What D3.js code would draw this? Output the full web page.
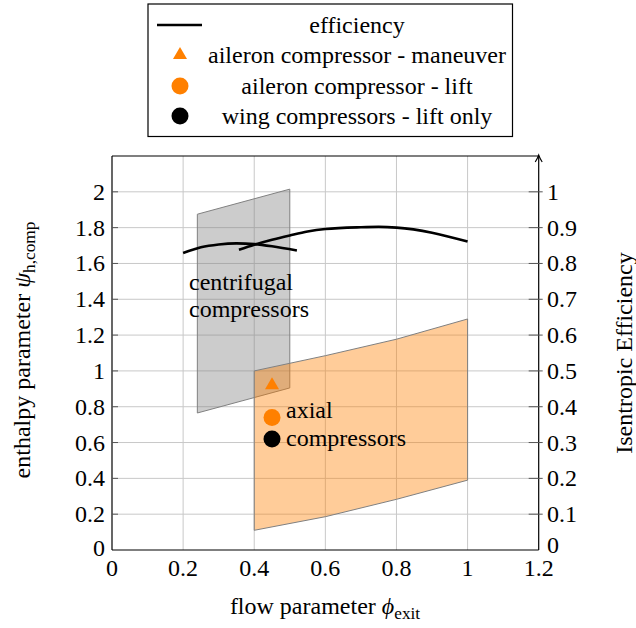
<!DOCTYPE html>
<html>
<head>
<meta charset="utf-8">
<script src="https://cdn.jsdelivr.net/npm/d3@7"></script>
<style>
  html, body { margin: 0; padding: 0; background: #fff; }
  svg { display: block; }
</style>
</head>
<body>
<svg id="chart" width="636" height="628"></svg>
<script>
// Axis ticks
const xTicks = [0, 0.2, 0.4, 0.6, 0.8, 1, 1.2];
const yTicks = [0, 0.2, 0.4, 0.6, 0.8, 1, 1.2, 1.4, 1.6, 1.8, 2];
const effTicks = [0, 0.1, 0.2, 0.3, 0.4, 0.5, 0.6, 0.7, 0.8, 0.9, 1];

// Centrifugal compressor region (phi, psi corners)
const centrifugalRegion = [[0.24, 0.765], [0.24, 1.875], [0.5, 2.015], [0.5, 0.905]];

// Axial compressor region: upper and lower bounds
const axialUpper = [[0.4, 1.0], [0.6, 1.085], [0.8, 1.177], [1.0, 1.29]];
const axialLower = [[0.4, 0.11], [0.6, 0.186], [0.8, 0.283], [1.0, 0.39]];

// Isentropic efficiency curves (phi, efficiency)
const effCentrifugal = [[0.2, 0.829], [0.25, 0.845], [0.3, 0.853], [0.35, 0.856], [0.4, 0.854], [0.45, 0.848], [0.52, 0.836]];
const effAxial = [[0.357, 0.838], [0.4, 0.852], [0.45, 0.866], [0.5, 0.878], [0.55, 0.889], [0.6, 0.896], [0.7, 0.901], [0.75, 0.902], [0.8, 0.9], [0.9, 0.886], [1.0, 0.861]];

// Operating points (phi, psi)
const aileronManeuver = [0.45, 0.92];
const aileronLift = [0.45, 0.74];
const wingLift = [0.45, 0.62];

const legendLabels = ["efficiency", "aileron compressor - maneuver", "aileron compressor - lift", "wing compressors - lift only"];

const ORANGE = "#ff8000";
const FS = 24;
const SERIF = "'Liberation Serif', 'Times New Roman', Tinos, 'DejaVu Serif', serif";

const svg = d3.select("#chart")
  .attr("font-family", SERIF)
  .style("font-family", SERIF);
const x = d3.scaleLinear().domain([0, 1.2]).range([112, 538.7]);
const y = d3.scaleLinear().domain([0, 2.2]).range([550, 156]);
const yEff = d3.scaleLinear().domain([0, 1.1]).range([550, 156]);

// grid
const grid = svg.append("g").attr("stroke", "#c8c8c8").attr("stroke-width", 1);
grid.selectAll("line.v").data(xTicks.slice(1, -1)).join("line")
  .attr("x1", d => x(d)).attr("x2", d => x(d)).attr("y1", y(0)).attr("y2", y(2.2));
grid.selectAll("line.h").data(yTicks.slice(1)).join("line")
  .attr("x1", x(0)).attr("x2", x(1.2)).attr("y1", d => y(d)).attr("y2", d => y(d));

// regions
const line = d3.line().x(d => x(d[0])).y(d => y(d[1]));
svg.append("path")
  .attr("d", line(centrifugalRegion) + "Z")
  .attr("fill", "#808080").attr("fill-opacity", 0.4)
  .attr("stroke", "#808080").attr("stroke-width", 1);

const axialPoly = axialUpper.concat(axialLower.slice().reverse());
svg.append("path")
  .attr("d", d3.line().x(d => x(d[0])).y(d => y(d[1])).curve(d3.curveLinearClosed)(axialPoly))
  .attr("fill", ORANGE).attr("fill-opacity", 0.4)
  .attr("stroke", "#808080").attr("stroke-width", 1);

// efficiency curves
const effLine = d3.line().x(d => x(d[0])).y(d => yEff(d[1])).curve(d3.curveMonotoneX);
[effCentrifugal, effAxial].forEach(data => {
  svg.append("path").attr("d", effLine(data))
    .attr("fill", "none").attr("stroke", "#000").attr("stroke-width", 2.6);
});

// operating points
const tri = d3.symbol().type(d3.symbolTriangle).size(85);
const circ = d3.symbol().type(d3.symbolCircle).size(227);
svg.append("path").attr("d", tri()).attr("fill", ORANGE)
  .attr("transform", `translate(${x(aileronManeuver[0])},${y(aileronManeuver[1])})`);
svg.append("path").attr("d", circ()).attr("fill", ORANGE)
  .attr("transform", `translate(${x(aileronLift[0])},${y(aileronLift[1])})`);
svg.append("path").attr("d", circ()).attr("fill", "#000")
  .attr("transform", `translate(${x(wingLift[0])},${y(wingLift[1])})`);

// region labels
const lbl = svg.append("g").attr("font-size", FS);
lbl.append("text").attr("x", 189).attr("y", 290).text("centrifugal");
lbl.append("text").attr("x", 189).attr("y", 317).text("compressors");
lbl.append("text").attr("x", 286).attr("y", 418).text("axial");
lbl.append("text").attr("x", 286).attr("y", 446).text("compressors");

// frame and axes
const ax = svg.append("g").attr("stroke", "#000").attr("stroke-width", 1.2).attr("fill", "none");
ax.append("line").attr("x1", x(0)).attr("x2", x(1.2)).attr("y1", y(0)).attr("y2", y(0));
ax.append("line").attr("x1", x(0)).attr("x2", x(0)).attr("y1", y(0)).attr("y2", y(2.2));
ax.append("line").attr("x1", x(0)).attr("x2", x(1.2)).attr("y1", y(2.2)).attr("y2", y(2.2));
ax.append("line").attr("x1", x(1.2)).attr("x2", x(1.2)).attr("y1", y(0)).attr("y2", y(2.2));
// arrow tip on right axis
ax.append("path")
  .attr("d", `M${x(1.2) - 3.5},${y(2.2) + 6} Q${x(1.2) - 1},${y(2.2) + 2} ${x(1.2)},${y(2.2) - 1} Q${x(1.2) + 1},${y(2.2) + 2} ${x(1.2) + 3.5},${y(2.2) + 6}`)
  .attr("stroke-width", 1.1);

// tick marks
const tk = svg.append("g").attr("stroke", "#555").attr("stroke-width", 1);
tk.selectAll("line.l").data(yTicks.slice(1)).join("line")
  .attr("x1", x(0)).attr("x2", x(0) + 6).attr("y1", d => y(d)).attr("y2", d => y(d));
tk.selectAll("line.r").data(effTicks.slice(1)).join("line")
  .attr("x1", x(1.2) - 10).attr("x2", x(1.2) + 4).attr("y1", d => yEff(d)).attr("y2", d => yEff(d));

// tick labels
const fmt = d => String(d);
svg.append("g").attr("font-size", FS).attr("text-anchor", "middle")
  .selectAll("text").data(xTicks).join("text")
  .attr("x", d => x(d)).attr("y", 576).text(fmt);
svg.append("g").attr("font-size", FS).attr("text-anchor", "end")
  .selectAll("text").data(yTicks).join("text")
  .attr("x", 105).attr("y", d => y(d) + 8 - (d === 0 ? 2 : 0)).text(fmt);
svg.append("g").attr("font-size", FS).attr("text-anchor", "start")
  .selectAll("text").data(effTicks).join("text")
  .attr("x", 547).attr("y", d => yEff(d) + 8 - (d === 0 ? 5 : 0)).text(fmt);

// axis titles
const xt = svg.append("text").attr("font-size", FS).attr("text-anchor", "middle")
  .attr("x", 325).attr("y", 614);
xt.append("tspan").text("flow parameter ");
xt.append("tspan").attr("font-style", "italic").text("\u03D5");
xt.append("tspan").attr("font-size", FS * 0.72).attr("dy", 5).text("exit");

const ytl = svg.append("text").attr("font-size", FS).attr("text-anchor", "middle")
  .attr("transform", "translate(30,350) rotate(-90)");
ytl.append("tspan").text("enthalpy parameter ");
ytl.append("tspan").attr("font-style", "italic").text("ψ");
ytl.append("tspan").attr("font-size", FS * 0.72).attr("dy", 5).text("h,comp");

svg.append("text").attr("font-size", FS).attr("text-anchor", "middle")
  .attr("transform", "translate(632,353) rotate(-90)")
  .text("Isentropic Efficiency");

// legend
const lg = svg.append("g");
lg.append("rect").attr("x", 148).attr("y", 4).attr("width", 364.5).attr("height", 132.5)
  .attr("fill", "#fff").attr("stroke", "#000").attr("stroke-width", 1.2);
const rows = [25, 55, 86, 116];
lg.append("line").attr("x1", 157).attr("x2", 202).attr("y1", rows[0]).attr("y2", rows[0])
  .attr("stroke", "#000").attr("stroke-width", 2.6);
lg.append("path").attr("d", tri()).attr("fill", ORANGE).attr("transform", `translate(180,${rows[1]})`);
lg.append("path").attr("d", circ()).attr("fill", ORANGE).attr("transform", `translate(180,${rows[2]})`);
lg.append("path").attr("d", circ()).attr("fill", "#000").attr("transform", `translate(180,${rows[3]})`);
lg.selectAll("text").data(legendLabels).join("text")
  .attr("font-size", FS).attr("text-anchor", "middle")
  .attr("x", 357).attr("y", (d, i) => rows[i] + 7.5).text(d => d);
</script>
</body>
</html>
